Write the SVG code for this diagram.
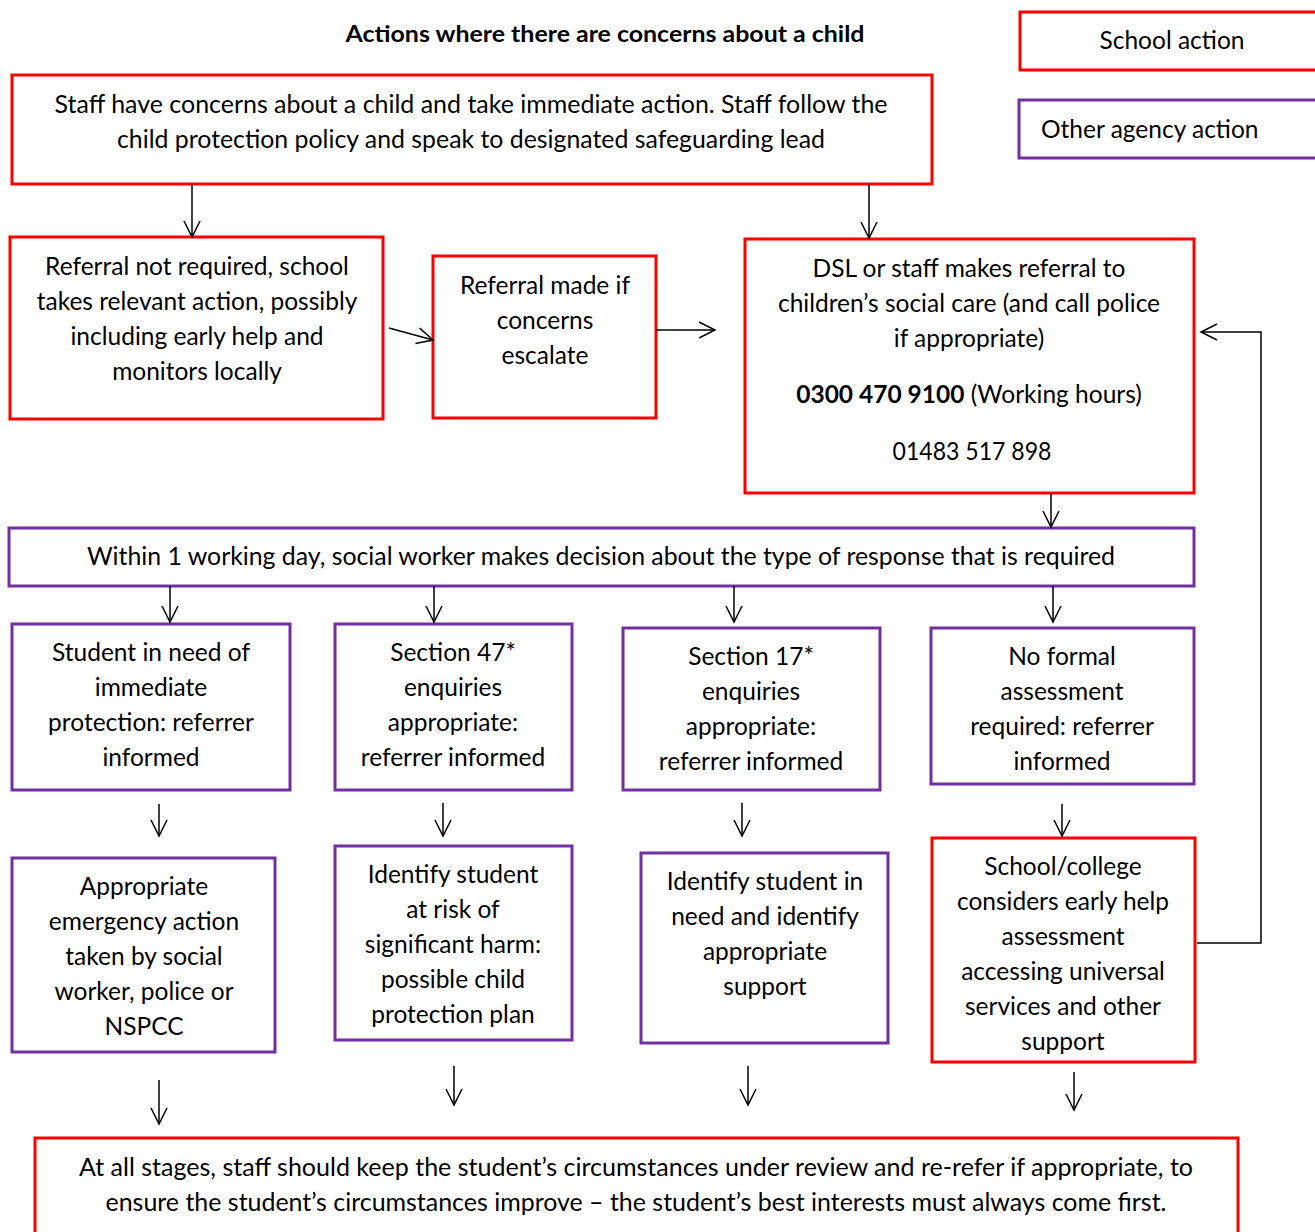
<svg xmlns="http://www.w3.org/2000/svg" width="1315" height="1232" viewBox="0 0 1315 1232">
<style>
  text { font-family: Lato, "Open Sans", "Liberation Sans", sans-serif; font-size: 24.5px; fill: #000; text-anchor: middle; }
  .title { font-weight: bold; font-size: 23px; }
  .b { font-weight: bold; }
  .school { fill: #fff; stroke: #FF0000; stroke-width: 3; }
  .agency { fill: #fff; stroke: #7030A0; stroke-width: 3; }
  .conn { fill: none; stroke: #000; stroke-width: 1.5; }
</style>
<defs>
  <marker id="arr" markerUnits="userSpaceOnUse" markerWidth="20" markerHeight="20" viewBox="0 0 20 20" refX="18" refY="10" orient="auto">
    <path d="M2,2 L18,10 L2,18" fill="none" stroke="#000" stroke-width="1.5"/>
  </marker>
</defs>
<rect width="1315" height="1232" fill="#fff"/>

<text class="title" x="605" y="42" textLength="519" lengthAdjust="spacingAndGlyphs">Actions where there are concerns about a child</text>

<g id="legend-school">
  <rect class="school" x="1020" y="12" width="310" height="58"/>
  <text x="1172" y="49">School action</text>
</g>
<g id="legend-agency">
  <rect class="agency" x="1019" y="100" width="310" height="58"/>
  <text x="1041" y="138" style="text-anchor:start">Other agency action</text>
</g>

<g id="n1">
  <rect class="school" x="12" y="75" width="920" height="109"/>
  <text x="471" y="113" textLength="833" lengthAdjust="spacingAndGlyphs">Staff have concerns about a child and take immediate action. Staff follow the</text>
  <text x="471" y="148" textLength="708" lengthAdjust="spacingAndGlyphs">child protection policy and speak to designated safeguarding lead</text>
</g>

<g id="n2">
  <rect class="school" x="10" y="237" width="373" height="182"/>
  <text x="197" y="275">Referral not required, school</text>
  <text x="197" y="310">takes relevant action, possibly</text>
  <text x="197" y="345">including early help and</text>
  <text x="197" y="380">monitors locally</text>
</g>

<g id="n3">
  <rect class="school" x="433" y="256" width="223" height="162"/>
  <text x="545" y="294">Referral made if</text>
  <text x="545" y="329">concerns</text>
  <text x="545" y="364">escalate</text>
</g>

<g id="n4">
  <rect class="school" x="745" y="239" width="449" height="254"/>
  <text x="969" y="277">DSL or staff makes referral to</text>
  <text x="969" y="312">children’s social care (and call police</text>
  <text x="969" y="347">if appropriate)</text>
  <text x="969" y="403"><tspan class="b">0300 470 9100</tspan> (Working hours)</text>
  <text x="972" y="460" textLength="159" lengthAdjust="spacingAndGlyphs">01483 517 898</text>
</g>

<g id="n5">
  <rect class="agency" x="9" y="528" width="1185" height="58"/>
  <text x="601" y="565" textLength="1028" lengthAdjust="spacingAndGlyphs">Within 1 working day, social worker makes decision about the type of response that is required</text>
</g>

<g id="n6">
  <rect class="agency" x="12" y="624" width="278" height="166"/>
  <text x="151" y="661">Student in need of</text>
  <text x="151" y="696">immediate</text>
  <text x="151" y="731">protection: referrer</text>
  <text x="151" y="766">informed</text>
</g>

<g id="n7">
  <rect class="agency" x="335" y="624" width="237" height="166"/>
  <text x="453" y="661">Section 47*</text>
  <text x="453" y="696">enquiries</text>
  <text x="453" y="731">appropriate:</text>
  <text x="453" y="766">referrer informed</text>
</g>

<g id="n8">
  <rect class="agency" x="623" y="628" width="257" height="162"/>
  <text x="751" y="665">Section 17*</text>
  <text x="751" y="700">enquiries</text>
  <text x="751" y="735">appropriate:</text>
  <text x="751" y="770">referrer informed</text>
</g>

<g id="n9">
  <rect class="agency" x="931" y="628" width="263" height="156"/>
  <text x="1062" y="665">No formal</text>
  <text x="1062" y="700">assessment</text>
  <text x="1062" y="735">required: referrer</text>
  <text x="1062" y="770">informed</text>
</g>

<g id="n10">
  <rect class="agency" x="12" y="858" width="263" height="194"/>
  <text x="144" y="895">Appropriate</text>
  <text x="144" y="930">emergency action</text>
  <text x="144" y="965">taken by social</text>
  <text x="144" y="1000">worker, police or</text>
  <text x="144" y="1035">NSPCC</text>
</g>

<g id="n11">
  <rect class="agency" x="335" y="846" width="237" height="194"/>
  <text x="453" y="883">Identify student</text>
  <text x="453" y="918">at risk of</text>
  <text x="453" y="953">significant harm:</text>
  <text x="453" y="988">possible child</text>
  <text x="453" y="1023">protection plan</text>
</g>

<g id="n12">
  <rect class="agency" x="641" y="853" width="247" height="190"/>
  <text x="765" y="890">Identify student in</text>
  <text x="765" y="925">need and identify</text>
  <text x="765" y="960">appropriate</text>
  <text x="765" y="995">support</text>
</g>

<g id="n13">
  <rect class="school" x="932" y="838" width="263" height="224"/>
  <text x="1063" y="875">School/college</text>
  <text x="1063" y="910">considers early help</text>
  <text x="1063" y="945">assessment</text>
  <text x="1063" y="980">accessing universal</text>
  <text x="1063" y="1015">services and other</text>
  <text x="1063" y="1050">support</text>
</g>

<g id="n14">
  <rect class="school" x="35" y="1138" width="1203" height="120"/>
  <text x="636" y="1176" textLength="1114" lengthAdjust="spacingAndGlyphs">At all stages, staff should keep the student’s circumstances under review and re-refer if appropriate, to</text>
  <text x="636" y="1211" textLength="1061" lengthAdjust="spacingAndGlyphs">ensure the student’s circumstances improve – the student’s best interests must always come first.</text>
</g>

<g id="connectors">
  <line class="conn" x1="192" y1="184" x2="192" y2="237" marker-end="url(#arr)"/>
  <line class="conn" x1="869" y1="184" x2="869" y2="238" marker-end="url(#arr)"/>
  <line class="conn" x1="389" y1="328" x2="433" y2="340" marker-end="url(#arr)"/>
  <line class="conn" x1="656" y1="330" x2="715" y2="330" marker-end="url(#arr)"/>
  <line class="conn" x1="1051" y1="493" x2="1051" y2="527" marker-end="url(#arr)"/>
  <line class="conn" x1="170" y1="586" x2="170" y2="622" marker-end="url(#arr)"/>
  <line class="conn" x1="434" y1="586" x2="434" y2="622" marker-end="url(#arr)"/>
  <line class="conn" x1="734" y1="586" x2="734" y2="622" marker-end="url(#arr)"/>
  <line class="conn" x1="1053" y1="586" x2="1053" y2="622" marker-end="url(#arr)"/>
  <line class="conn" x1="159" y1="804" x2="159" y2="836" marker-end="url(#arr)"/>
  <line class="conn" x1="443" y1="803" x2="443" y2="836" marker-end="url(#arr)"/>
  <line class="conn" x1="742" y1="803" x2="742" y2="836" marker-end="url(#arr)"/>
  <line class="conn" x1="1062" y1="804" x2="1062" y2="836" marker-end="url(#arr)"/>
  <line class="conn" x1="159" y1="1080" x2="159" y2="1124" marker-end="url(#arr)"/>
  <line class="conn" x1="454" y1="1066" x2="454" y2="1105" marker-end="url(#arr)"/>
  <line class="conn" x1="748" y1="1066" x2="748" y2="1105" marker-end="url(#arr)"/>
  <line class="conn" x1="1074" y1="1072" x2="1074" y2="1110" marker-end="url(#arr)"/>
  <polyline class="conn" points="1197,943 1261,943 1261,332 1201,332" marker-end="url(#arr)"/>
</g>
</svg>
